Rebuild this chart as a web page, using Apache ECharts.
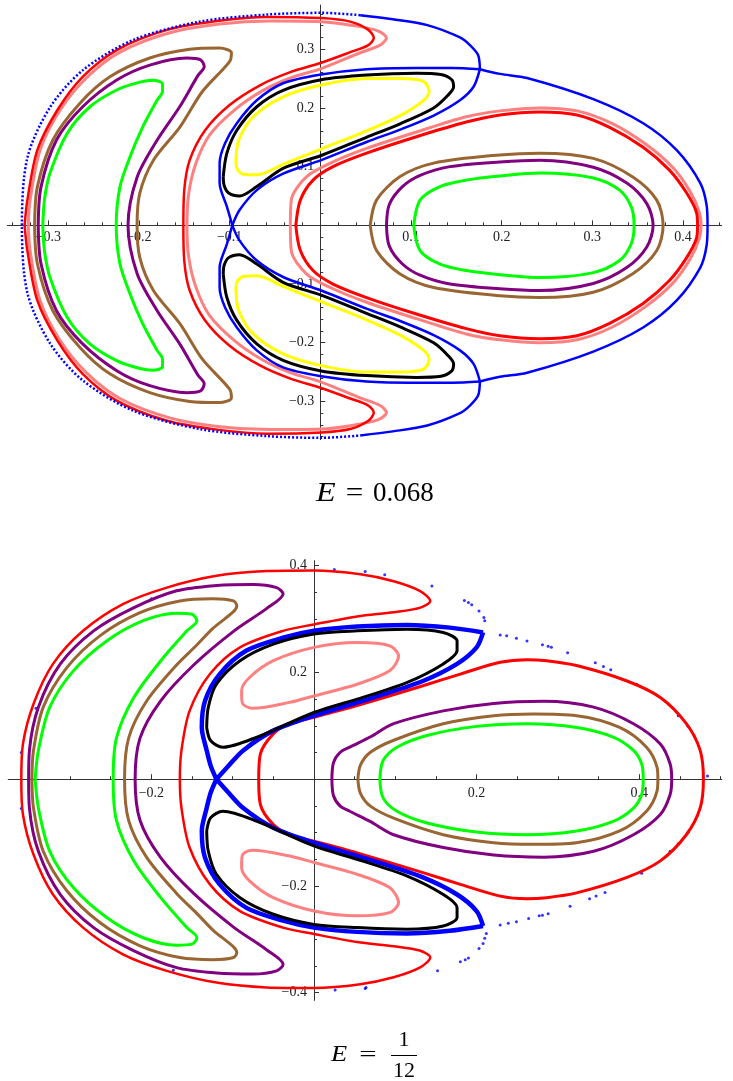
<!DOCTYPE html>
<html><head><meta charset="utf-8">
<script src="https://cdn.jsdelivr.net/npm/echarts@6/dist/echarts.min.js"></script>
<style>html,body{margin:0;padding:0;background:#fff}#c{width:733px;height:1081px}</style>
</head><body><div id="c"></div>
<script>
// ---------- Panel 1 (E = 0.068) ----------
const p1XLabels = [-0.3,-0.2,-0.1,0.1,0.2,0.3,0.4];
const p1YLabels = [-0.3,-0.2,-0.1,0.1,0.2,0.3];
const p1GreenL = [[-0.306,0],[-0.304,0.045],[-0.298,0.089],[-0.279,0.157],[-0.254,0.202],[-0.224,0.231],[-0.199,0.244],[-0.184,0.247],[-0.174,0.241],[-0.174,0.228],[-0.180,0.213],[-0.196,0.167],[-0.210,0.116],[-0.221,0.065],[-0.225,0],[-0.221,-0.065],[-0.210,-0.116],[-0.196,-0.167],[-0.180,-0.213],[-0.174,-0.228],[-0.174,-0.241],[-0.184,-0.247],[-0.199,-0.244],[-0.224,-0.231],[-0.254,-0.202],[-0.279,-0.157],[-0.298,-0.089],[-0.304,-0.045],[-0.306,0]];
const p1PurpleL = [[-0.311,0],[-0.308,0.065],[-0.291,0.145],[-0.262,0.202],[-0.224,0.248],[-0.188,0.273],[-0.147,0.285],[-0.132,0.282],[-0.128,0.270],[-0.135,0.255],[-0.155,0.202],[-0.180,0.145],[-0.202,0.082],[-0.212,0],[-0.202,-0.082],[-0.180,-0.145],[-0.155,-0.202],[-0.135,-0.255],[-0.128,-0.270],[-0.132,-0.282],[-0.147,-0.285],[-0.188,-0.273],[-0.224,-0.248],[-0.262,-0.202],[-0.291,-0.145],[-0.308,-0.065],[-0.311,0]];
const p1BrownL = [[-0.315,0],[-0.312,0.065],[-0.295,0.145],[-0.265,0.208],[-0.232,0.253],[-0.188,0.285],[-0.144,0.300],[-0.111,0.302],[-0.098,0.294],[-0.100,0.279],[-0.130,0.228],[-0.155,0.167],[-0.184,0.111],[-0.199,0.055],[-0.202,0],[-0.199,-0.055],[-0.184,-0.111],[-0.155,-0.167],[-0.130,-0.228],[-0.100,-0.279],[-0.098,-0.294],[-0.111,-0.302],[-0.144,-0.300],[-0.188,-0.285],[-0.232,-0.253],[-0.265,-0.208],[-0.295,-0.145],[-0.312,-0.065],[-0.315,0]];
const p1RedL = [[-0.326,0],[-0.323,0.043],[-0.312,0.128],[-0.290,0.196],[-0.262,0.253],[-0.224,0.299],[-0.169,0.333],[-0.114,0.348],[-0.059,0.355],[0.001,0.353],[0.033,0.347],[0.053,0.333],[0.059,0.319],[0.053,0.307],[0.033,0.295],[0.001,0.277],[-0.033,0.261],[-0.066,0.239],[-0.100,0.205],[-0.127,0.162],[-0.144,0.111],[-0.150,0.060],[-0.151,0],[-0.150,-0.060],[-0.144,-0.111],[-0.127,-0.162],[-0.100,-0.205],[-0.066,-0.239],[-0.033,-0.261],[0.001,-0.277],[0.033,-0.295],[0.053,-0.307],[0.059,-0.319],[0.053,-0.333],[0.033,-0.347],[0.001,-0.353],[-0.059,-0.355],[-0.114,-0.348],[-0.169,-0.333],[-0.224,-0.299],[-0.262,-0.253],[-0.290,-0.196],[-0.312,-0.128],[-0.323,-0.043],[-0.326,0]];
const p1PinkL = [[-0.322,0],[-0.320,0.043],[-0.309,0.128],[-0.287,0.196],[-0.258,0.251],[-0.221,0.295],[-0.166,0.328],[-0.111,0.343],[-0.055,0.348],[0.001,0.347],[0.038,0.340],[0.064,0.331],[0.073,0.319],[0.066,0.307],[0.044,0.294],[0.001,0.267],[-0.033,0.251],[-0.064,0.229],[-0.095,0.196],[-0.122,0.154],[-0.137,0.106],[-0.145,0.055],[-0.147,0],[-0.145,-0.055],[-0.137,-0.106],[-0.122,-0.154],[-0.095,-0.196],[-0.064,-0.229],[-0.033,-0.251],[0.001,-0.267],[0.044,-0.294],[0.066,-0.307],[0.073,-0.319],[0.064,-0.331],[0.038,-0.340],[0.001,-0.347],[-0.055,-0.348],[-0.111,-0.343],[-0.166,-0.328],[-0.221,-0.295],[-0.258,-0.251],[-0.287,-0.196],[-0.309,-0.128],[-0.320,-0.043],[-0.322,0]];
const p1RedR = [[-0.027,0],[-0.022,0.043],[-0.008,0.077],[0.014,0.100],[0.051,0.123],[0.106,0.151],[0.161,0.176],[0.198,0.188],[0.242,0.193],[0.283,0.188],[0.319,0.167],[0.356,0.133],[0.385,0.094],[0.404,0.055],[0.415,0.021],[0.416,0],[0.415,-0.021],[0.404,-0.055],[0.385,-0.094],[0.356,-0.133],[0.319,-0.167],[0.283,-0.188],[0.242,-0.193],[0.198,-0.188],[0.161,-0.176],[0.106,-0.151],[0.051,-0.123],[0.014,-0.100],[-0.008,-0.077],[-0.022,-0.043],[-0.027,0]];
const p1PinkR = [[-0.033,0],[-0.032,0.043],[-0.015,0.083],[0.014,0.108],[0.051,0.131],[0.106,0.159],[0.161,0.185],[0.198,0.195],[0.242,0.200],[0.283,0.195],[0.321,0.174],[0.359,0.138],[0.389,0.098],[0.408,0.057],[0.418,0.022],[0.420,0],[0.418,-0.022],[0.408,-0.057],[0.389,-0.098],[0.359,-0.138],[0.321,-0.174],[0.283,-0.195],[0.242,-0.200],[0.198,-0.195],[0.161,-0.185],[0.106,-0.159],[0.051,-0.131],[0.014,-0.108],[-0.015,-0.083],[-0.032,-0.043],[-0.033,0]];
const p1BrownR = [[0.055,0],[0.062,0.043],[0.088,0.083],[0.125,0.106],[0.198,0.120],[0.242,0.123],[0.301,0.114],[0.345,0.082],[0.371,0.043],[0.378,0],[0.371,-0.043],[0.345,-0.082],[0.301,-0.114],[0.242,-0.123],[0.198,-0.120],[0.125,-0.106],[0.088,-0.083],[0.062,-0.043],[0.055,0]];
const p1PurpleR = [[0.073,0],[0.076,0.035],[0.090,0.065],[0.110,0.085],[0.143,0.100],[0.198,0.108],[0.242,0.111],[0.301,0.099],[0.338,0.072],[0.360,0.037],[0.367,0],[0.360,-0.037],[0.338,-0.072],[0.301,-0.099],[0.242,-0.111],[0.198,-0.108],[0.143,-0.100],[0.110,-0.085],[0.090,-0.065],[0.076,-0.035],[0.073,0]];
const p1GreenR = [[0.103,0],[0.110,0.043],[0.132,0.066],[0.161,0.077],[0.198,0.084],[0.242,0.089],[0.300,0.081],[0.330,0.060],[0.343,0.031],[0.346,0],[0.343,-0.031],[0.330,-0.060],[0.300,-0.081],[0.242,-0.089],[0.198,-0.084],[0.161,-0.077],[0.132,-0.066],[0.110,-0.043],[0.103,0]];
const p1BlackUp = [[-0.107,0.083],[-0.103,0.123],[-0.092,0.162],[-0.070,0.202],[-0.041,0.230],[0.001,0.248],[0.051,0.256],[0.106,0.259],[0.133,0.257],[0.145,0.248],[0.147,0.236],[0.141,0.222],[0.125,0.200],[0.088,0.173],[0.051,0.150],[0.001,0.119],[-0.041,0.097],[-0.070,0.066],[-0.089,0.050],[-0.101,0.055],[-0.106,0.068],[-0.107,0.083]];
const p1BlackDn = [[-0.107,-0.083],[-0.103,-0.123],[-0.092,-0.162],[-0.070,-0.202],[-0.041,-0.230],[0.001,-0.248],[0.051,-0.256],[0.106,-0.259],[0.133,-0.257],[0.145,-0.248],[0.147,-0.236],[0.141,-0.222],[0.125,-0.200],[0.088,-0.173],[0.051,-0.150],[0.001,-0.119],[-0.041,-0.097],[-0.070,-0.066],[-0.089,-0.050],[-0.101,-0.055],[-0.106,-0.068],[-0.107,-0.083]];
const p1YellowUp = [[-0.093,0.111],[-0.090,0.145],[-0.074,0.185],[-0.041,0.219],[0.001,0.239],[0.051,0.250],[0.088,0.250],[0.114,0.245],[0.120,0.228],[0.114,0.213],[0.088,0.187],[0.051,0.161],[0.001,0.130],[-0.041,0.104],[-0.070,0.086],[-0.085,0.087],[-0.092,0.097],[-0.093,0.111]];
const p1YellowDn = [[-0.093,-0.111],[-0.090,-0.145],[-0.074,-0.185],[-0.041,-0.219],[0.001,-0.239],[0.051,-0.250],[0.088,-0.250],[0.114,-0.245],[0.120,-0.228],[0.114,-0.213],[0.088,-0.187],[0.051,-0.161],[0.001,-0.130],[-0.041,-0.104],[-0.070,-0.086],[-0.085,-0.087],[-0.092,-0.097],[-0.093,-0.111]];
const p1BlueAUp = [[-0.097,0],[-0.103,0.032],[-0.111,0.072],[-0.111,0.106],[-0.105,0.140],[-0.092,0.174],[-0.070,0.213],[-0.041,0.242],[0.001,0.257],[0.051,0.266],[0.106,0.268],[0.145,0.268],[0.176,0.266]];
const p1BlueBUp = [[0.176,0.266],[0.169,0.236],[0.154,0.213],[0.125,0.187],[0.088,0.163],[0.051,0.142],[0.001,0.111],[-0.041,0.088],[-0.070,0.060],[-0.089,0.026],[-0.097,0]];
const p1BlueADn = [[-0.097,0],[-0.103,-0.032],[-0.111,-0.072],[-0.111,-0.106],[-0.105,-0.140],[-0.092,-0.174],[-0.070,-0.213],[-0.041,-0.242],[0.001,-0.257],[0.051,-0.266],[0.106,-0.268],[0.145,-0.268],[0.176,-0.266]];
const p1BlueBDn = [[0.176,-0.266],[0.169,-0.236],[0.154,-0.213],[0.125,-0.187],[0.088,-0.163],[0.051,-0.142],[0.001,-0.111],[-0.041,-0.088],[-0.070,-0.060],[-0.089,-0.026],[-0.097,0]];
const p1BlueOuterR = [[0.176,0.266],[0.198,0.258],[0.228,0.251],[0.301,0.215],[0.356,0.174],[0.393,0.128],[0.419,0.072],[0.426,0.034],[0.427,0],[0.426,-0.034],[0.419,-0.072],[0.393,-0.128],[0.356,-0.174],[0.301,-0.215],[0.228,-0.251],[0.198,-0.258],[0.176,-0.266]];
const p1BlueTop = [[0.176,0.266],[0.174,0.290],[0.165,0.307],[0.154,0.320],[0.118,0.341],[0.080,0.351],[0.044,0.358]];
const p1BlueBot = [[0.176,-0.266],[0.174,-0.290],[0.165,-0.307],[0.154,-0.320],[0.118,-0.341],[0.080,-0.351],[0.044,-0.358]];
const p1BlueLeft = [[0.044,0.358],[0.001,0.362],[-0.059,0.359],[-0.133,0.347],[-0.206,0.316],[-0.262,0.264],[-0.298,0.201],[-0.323,0.115],[-0.329,0],[-0.323,-0.115],[-0.298,-0.201],[-0.262,-0.264],[-0.206,-0.316],[-0.133,-0.347],[-0.059,-0.359],[0.001,-0.362],[0.044,-0.358]];

// ---------- Panel 2 (E = 1/12) ----------
const p2XLabels = [-0.2,0.2,0.4];
const p2YLabels = [-0.4,-0.2,0.2,0.4];
const p2RedL = [[-0.360,0],[-0.358,0.066],[-0.345,0.141],[-0.321,0.216],[-0.284,0.278],[-0.235,0.328],[-0.181,0.359],[-0.120,0.381],[-0.058,0.390],[0,0.391],[0.057,0.384],[0.098,0.371],[0.130,0.353],[0.143,0.334],[0.130,0.321],[0.098,0.313],[0.053,0.305],[0,0.290],[-0.038,0.278],[-0.091,0.247],[-0.128,0.197],[-0.153,0.128],[-0.163,0.054],[-0.165,0],[-0.163,-0.054],[-0.153,-0.128],[-0.128,-0.197],[-0.091,-0.247],[-0.038,-0.278],[0,-0.290],[0.053,-0.305],[0.098,-0.313],[0.130,-0.321],[0.143,-0.334],[0.130,-0.353],[0.098,-0.371],[0.057,-0.384],[0,-0.391],[-0.058,-0.390],[-0.120,-0.381],[-0.181,-0.359],[-0.235,-0.328],[-0.284,-0.278],[-0.321,-0.216],[-0.345,-0.141],[-0.358,-0.066],[-0.360,0]];
const p2RedR = [[-0.068,0],[-0.066,0.047],[-0.050,0.085],[-0.030,0.104],[0,0.116],[0.053,0.138],[0.134,0.175],[0.180,0.197],[0.229,0.219],[0.262,0.224],[0.286,0.222],[0.323,0.213],[0.385,0.184],[0.426,0.153],[0.458,0.104],[0.475,0.054],[0.479,0],[0.475,-0.054],[0.458,-0.104],[0.426,-0.153],[0.385,-0.184],[0.323,-0.213],[0.286,-0.222],[0.262,-0.224],[0.229,-0.219],[0.180,-0.197],[0.134,-0.175],[0.053,-0.138],[0,-0.116],[-0.030,-0.104],[-0.050,-0.085],[-0.066,-0.047],[-0.068,0]];
const p2GreenL = [[-0.343,0],[-0.339,0.054],[-0.325,0.135],[-0.296,0.203],[-0.255,0.259],[-0.210,0.297],[-0.169,0.311],[-0.150,0.309],[-0.144,0.297],[-0.157,0.277],[-0.189,0.221],[-0.222,0.152],[-0.243,0.077],[-0.247,0],[-0.243,-0.077],[-0.222,-0.152],[-0.189,-0.221],[-0.157,-0.277],[-0.144,-0.297],[-0.150,-0.309],[-0.169,-0.311],[-0.210,-0.297],[-0.255,-0.259],[-0.296,-0.203],[-0.325,-0.135],[-0.339,-0.054],[-0.343,0]];
const p2BrownL = [[-0.347,0],[-0.345,0.054],[-0.333,0.135],[-0.304,0.209],[-0.263,0.269],[-0.214,0.312],[-0.165,0.334],[-0.124,0.338],[-0.099,0.334],[-0.095,0.325],[-0.099,0.314],[-0.124,0.283],[-0.145,0.250],[-0.169,0.214],[-0.206,0.146],[-0.228,0.077],[-0.233,0],[-0.228,-0.077],[-0.206,-0.146],[-0.169,-0.214],[-0.145,-0.250],[-0.124,-0.283],[-0.099,-0.314],[-0.095,-0.325],[-0.099,-0.334],[-0.124,-0.338],[-0.165,-0.334],[-0.214,-0.312],[-0.263,-0.269],[-0.304,-0.209],[-0.333,-0.135],[-0.345,-0.054],[-0.347,0]];
const p2PurpleL = [[-0.351,0],[-0.350,0.054],[-0.339,0.135],[-0.312,0.216],[-0.271,0.278],[-0.222,0.321],[-0.169,0.353],[-0.120,0.363],[-0.075,0.365],[-0.046,0.359],[-0.038,0.347],[-0.058,0.320],[-0.099,0.277],[-0.148,0.214],[-0.189,0.146],[-0.214,0.077],[-0.220,0],[-0.214,-0.077],[-0.189,-0.146],[-0.148,-0.214],[-0.099,-0.277],[-0.058,-0.320],[-0.038,-0.347],[-0.046,-0.359],[-0.075,-0.365],[-0.120,-0.363],[-0.169,-0.353],[-0.222,-0.321],[-0.271,-0.278],[-0.312,-0.216],[-0.339,-0.135],[-0.350,-0.054],[-0.351,0]];
const p2GreenR = [[0.081,0],[0.085,0.035],[0.102,0.060],[0.139,0.082],[0.200,0.099],[0.262,0.104],[0.323,0.097],[0.368,0.079],[0.393,0.054],[0.403,0.029],[0.405,0],[0.403,-0.029],[0.393,-0.054],[0.368,-0.079],[0.323,-0.097],[0.262,-0.104],[0.200,-0.099],[0.139,-0.082],[0.102,-0.060],[0.085,-0.035],[0.081,0]];
const p2BrownR = [[0.054,0],[0.057,0.026],[0.069,0.050],[0.098,0.073],[0.159,0.104],[0.221,0.119],[0.270,0.122],[0.323,0.119],[0.376,0.097],[0.409,0.060],[0.422,0.022],[0.423,0],[0.422,-0.022],[0.409,-0.060],[0.376,-0.097],[0.323,-0.119],[0.270,-0.122],[0.221,-0.119],[0.159,-0.104],[0.098,-0.073],[0.069,-0.050],[0.057,-0.026],[0.054,0]];
const p2PurpleR = [[0.022,0],[0.024,0.031],[0.032,0.050],[0.044,0.060],[0.069,0.079],[0.098,0.104],[0.159,0.128],[0.221,0.142],[0.282,0.146],[0.344,0.135],[0.393,0.104],[0.426,0.066],[0.438,0.029],[0.440,0],[0.438,-0.029],[0.426,-0.066],[0.393,-0.104],[0.344,-0.135],[0.282,-0.146],[0.221,-0.142],[0.159,-0.128],[0.098,-0.104],[0.069,-0.079],[0.044,-0.060],[0.032,-0.050],[0.024,-0.031],[0.022,0]];
const p2BlackUp = [[-0.132,0.097],[-0.130,0.135],[-0.120,0.178],[-0.091,0.222],[-0.050,0.253],[0,0.272],[0.053,0.278],[0.114,0.281],[0.159,0.275],[0.176,0.259],[0.176,0.241],[0.159,0.216],[0.114,0.181],[0.053,0.150],[0,0.125],[-0.070,0.079],[-0.112,0.060],[-0.127,0.072],[-0.132,0.097]];
const p2BlackDn = [[-0.132,-0.097],[-0.130,-0.135],[-0.120,-0.178],[-0.091,-0.222],[-0.050,-0.253],[0,-0.272],[0.053,-0.278],[0.114,-0.281],[0.159,-0.275],[0.176,-0.259],[0.176,-0.241],[0.159,-0.216],[0.114,-0.181],[0.053,-0.150],[0,-0.125],[-0.070,-0.079],[-0.112,-0.060],[-0.127,-0.072],[-0.132,-0.097]];
const p2PinkUp = [[-0.089,0.153],[-0.089,0.166],[-0.079,0.191],[-0.050,0.222],[0,0.247],[0.053,0.256],[0.093,0.250],[0.104,0.231],[0.093,0.203],[0.053,0.178],[0,0.156],[-0.030,0.144],[-0.075,0.133],[-0.087,0.140],[-0.089,0.153]];
const p2PinkDn = [[-0.089,-0.153],[-0.089,-0.166],[-0.079,-0.191],[-0.050,-0.222],[0,-0.247],[0.053,-0.256],[0.093,-0.250],[0.104,-0.231],[0.093,-0.203],[0.053,-0.178],[0,-0.156],[-0.030,-0.144],[-0.075,-0.133],[-0.087,-0.140],[-0.089,-0.153]];
const p2BlueAUp = [[-0.120,0],[-0.127,0.025],[-0.132,0.054],[-0.138,0.097],[-0.134,0.147],[-0.116,0.197],[-0.083,0.241],[-0.038,0.265],[0,0.278],[0.053,0.286],[0.114,0.289],[0.167,0.284],[0.208,0.275]];
const p2BlueBUp = [[0.208,0.275],[0.200,0.247],[0.176,0.216],[0.134,0.184],[0.073,0.153],[0,0.119],[-0.050,0.091],[-0.087,0.054],[-0.107,0.022],[-0.120,0]];
const p2BlueADn = [[-0.120,0],[-0.127,-0.025],[-0.132,-0.054],[-0.138,-0.097],[-0.134,-0.147],[-0.116,-0.197],[-0.083,-0.241],[-0.038,-0.265],[0,-0.278],[0.053,-0.286],[0.114,-0.289],[0.167,-0.284],[0.208,-0.275]];
const p2BlueBDn = [[0.208,-0.275],[0.200,-0.247],[0.176,-0.216],[0.134,-0.184],[0.073,-0.153],[0,-0.119],[-0.050,-0.091],[-0.087,-0.054],[-0.107,-0.022],[-0.120,0]];
const p2BlueDots = [[0.063,0.389],[0.087,0.383],[0.145,0.362],[0.185,0.335],[0.190,0.331],[0.194,0.327],[0.203,0.315],[0.209,0.303],[0.210,0.297],[0.229,0.270],[0.237,0.269],[0.249,0.264],[0.262,0.259],[0.281,0.252],[0.288,0.249],[0.292,0.247],[0.312,0.237],[0.346,0.218],[0.356,0.211],[0.365,0.205],[0.397,0.178],[0.448,0.119],[0.460,0.099],[0.468,0.080],[0.484,0.006],[0.025,0.393],[-0.200,0.338],[-0.342,0.133],[-0.360,0.050],[0.460,-0.100],[0.448,-0.121],[0.438,-0.135],[0.403,-0.176],[0.358,-0.212],[0.347,-0.219],[0.339,-0.224],[0.315,-0.238],[0.288,-0.252],[0.281,-0.255],[0.277,-0.256],[0.264,-0.261],[0.249,-0.267],[0.239,-0.270],[0.229,-0.273],[0.212,-0.289],[0.210,-0.298],[0.208,-0.308],[0.203,-0.317],[0.190,-0.335],[0.186,-0.338],[0.180,-0.342],[0.152,-0.359],[0.063,-0.392],[-0.360,-0.055],[-0.173,-0.358],[0.026,-0.395],[0.064,-0.390]];

// ---------- colours ----------
const C = {red:'#ff0000', pink:'#ff8080', green:'#00ff00', purple:'#800080', brown:'#996633', black:'#000000', yellow:'#ffff00', blue:'#0000ff'};

function line(data, color, width, gi, extra) {
  return Object.assign({
    type:'line', data:data, xAxisIndex:gi*2, yAxisIndex:gi*2,
    showSymbol:false, symbol:'none', smooth:0.3, silent:true, animation:false,
    lineStyle:{color:color, width:width}, itemStyle:{color:color}
  }, extra || {});
}
function range(a, b, step) {
  const out = []; const n = Math.round((b - a) / step);
  for (let i = 0; i <= n; i++) out.push(+(a + i * step).toFixed(4));
  return out;
}
const fmt = v => (+v).toFixed(1).replace('-', '\u2212');
const AX = '#333';
const W = 733;
// grid layouts (pixels)
const G = [
  {left:7.4, right:11.4, top:5.2, height:434.4, xr:[-0.345,0.4425], yr:[-0.365,0.375]},
  {left:8.3, right:11.3, top:560.9, height:439.3, xr:[-0.376,0.5015], yr:[-0.414,0.409]}
];
// offset that moves an edge axis onto the zero line of the other axis
function zeroOffset(range, size) { return -((0 - range[0]) / (range[1] - range[0])) * size; }
function axisPair(gi, dim, majors, minors, labels, margin) {
  const g = G[gi];
  const r = dim === 'x' ? g.xr : g.yr;
  const other = dim === 'x' ? g.yr : g.xr;
  const size = dim === 'x' ? g.height : (W - g.left - g.right);
  const off = zeroOffset(other, size);
  const pos = dim === 'x' ? 'bottom' : 'left';
  const base = {gridIndex:gi, type:'value', min:r[0], max:r[1], position:pos, offset:off,
    axisLine:{show:true, onZero:false, lineStyle:{color:AX, width:1}}, splitLine:{show:false}, minorTick:{show:false}};
  return [
    Object.assign({}, base, {
      axisTick:{show:true, inside:true, length:5, customValues:majors, lineStyle:{color:AX}},
      axisLabel:{show:true, customValues:labels, formatter:fmt, margin:margin, fontFamily:'Liberation Serif', fontSize:14, color:'#222'}}),
    Object.assign({}, base, {
      axisTick:{show:true, inside:true, length:3, customValues:minors, lineStyle:{color:AX}},
      axisLabel:{show:false}})
  ];
}

const series = [
  // panel 1
  line(p1PinkL, C.pink, 3, 0), line(p1RedL, C.red, 2.5, 0),
  line(p1PinkR, C.pink, 3, 0), line(p1RedR, C.red, 3, 0),
  line(p1BrownL, C.brown, 3, 0), line(p1PurpleL, C.purple, 3, 0), line(p1GreenL, C.green, 3, 0),
  line(p1BrownR, C.brown, 3, 0), line(p1PurpleR, C.purple, 3, 0), line(p1GreenR, C.green, 3, 0),
  line(p1YellowUp, C.yellow, 3, 0), line(p1YellowDn, C.yellow, 3, 0),
  line(p1BlackUp, C.black, 3, 0), line(p1BlackDn, C.black, 3, 0),
  line(p1BlueAUp, C.blue, 2.5, 0), line(p1BlueBUp, C.blue, 2.5, 0),
  line(p1BlueADn, C.blue, 2.5, 0), line(p1BlueBDn, C.blue, 2.5, 0),
  line(p1BlueOuterR, C.blue, 2.5, 0), line(p1BlueTop, C.blue, 2.5, 0), line(p1BlueBot, C.blue, 2.5, 0),
  line(p1BlueLeft, C.blue, 2.5, 0, {lineStyle:{color:C.blue, width:2.5, type:[2,2]}}),
  // panel 2
  line(p2GreenL, C.green, 3, 1), line(p2BrownL, C.brown, 3, 1), line(p2PurpleL, C.purple, 3, 1),
  line(p2GreenR, C.green, 3, 1), line(p2BrownR, C.brown, 3, 1), line(p2PurpleR, C.purple, 3, 1),
  line(p2RedL, C.red, 2.5, 1), line(p2RedR, C.red, 3, 1),
  line(p2PinkUp, C.pink, 3, 1), line(p2PinkDn, C.pink, 3, 1),
  line(p2BlueAUp, C.blue, 4.5, 1), line(p2BlueBUp, C.blue, 4.5, 1),
  line(p2BlueADn, C.blue, 4.5, 1), line(p2BlueBDn, C.blue, 4.5, 1),
  line(p2BlackUp, C.black, 3, 1), line(p2BlackDn, C.black, 3, 1),
  {type:'scatter', data:p2BlueDots, xAxisIndex:2, yAxisIndex:2, symbolSize:3, silent:true, animation:false, itemStyle:{color:C.blue}}
];

const option = {
  backgroundColor:'#fff',
  animation:false,
  grid: G.map(g => ({left:g.left, right:g.right, top:g.top, height:g.height, containLabel:false, outerBoundsMode:'none'})),
  xAxis: [].concat(
    axisPair(0, 'x', range(-0.3, 0.4, 0.1), range(-0.34, 0.44, 0.02), p1XLabels, 5),
    axisPair(1, 'x', range(-0.2, 0.4, 0.2), range(-0.35, 0.50, 0.05), p2XLabels, 7)
  ),
  yAxis: [].concat(
    axisPair(0, 'y', range(-0.3, 0.3, 0.1), range(-0.36, 0.36, 0.02), p1YLabels, 6),
    axisPair(1, 'y', range(-0.4, 0.4, 0.2), range(-0.40, 0.40, 0.05), p2YLabels, 7)
  ),
  series: series,
  graphic: [
    {type:'text', x:316, y:494, scaleX:1.15, style:{text:'E', fontFamily:'Liberation Serif', fontStyle:'italic', fontSize:28, fill:'#000', align:'left', verticalAlign:'middle'}},
    {type:'text', x:354.5, y:494, scaleX:1.15, style:{text:'=', fontFamily:'Liberation Serif', fontSize:27, fill:'#000', align:'center', verticalAlign:'middle'}},
    {type:'text', x:373, y:494, style:{text:'0.068', fontFamily:'Liberation Serif', fontSize:27, fill:'#000', align:'left', verticalAlign:'middle'}},
    {type:'text', x:331, y:1055, scaleX:1.15, style:{text:'E', fontFamily:'Liberation Serif', fontStyle:'italic', fontSize:23, fill:'#000', align:'left', verticalAlign:'middle'}},
    {type:'text', x:368, y:1055, scaleX:1.4, style:{text:'=', fontFamily:'Liberation Serif', fontSize:22, fill:'#000', align:'center', verticalAlign:'middle'}},
    {type:'text', x:404, y:1040, style:{text:'1', fontFamily:'Liberation Serif', fontSize:22, fill:'#000', align:'center', verticalAlign:'middle'}},
    {type:'line', shape:{x1:391, y1:1055.5, x2:417, y2:1055.5}, style:{stroke:'#000', lineWidth:1}},
    {type:'text', x:404, y:1071, style:{text:'12', fontFamily:'Liberation Serif', fontSize:22, fill:'#000', align:'center', verticalAlign:'middle'}}
  ]
};
const chart = echarts.init(document.getElementById('c'), null, {renderer:'canvas'});
chart.setOption(option);
</script></body></html>
